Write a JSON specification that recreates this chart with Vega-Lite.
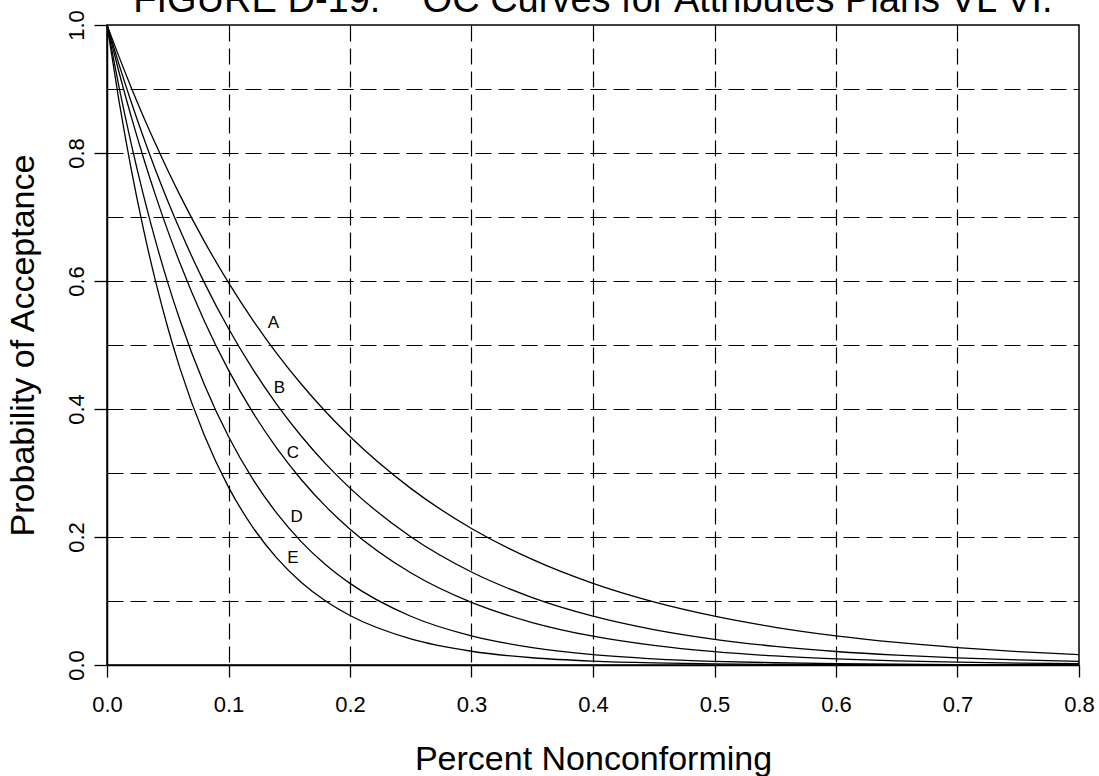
{
  "$schema": "https://vega.github.io/schema/vega-lite/v6.json",
  "width": 972,
  "height": 640,
  "autosize": {"type": "none"},
  "padding": {"left": 107, "top": 25, "right": 20, "bottom": 111},
  "background": "white",
  "title": {
    "text": "FIGURE D-19.\u00a0\u00a0\u00a0\u00a0OC Curves for Attributes Plans VL VI.",
    "font": "Liberation Sans",
    "fontSize": 38,
    "fontWeight": "normal",
    "color": "black",
    "baseline": "alphabetic",
    "anchor": "middle",
    "frame": "group",
    "offset": 0,
    "dy": 40
  },
  "config": {
    "font": "Liberation Sans",
    "view": {"stroke": "black", "strokeWidth": 1.5}
  },
  "datasets": {
    "curves": [
      {"plan": "A", "p": 0, "pa": 1},
      {"plan": "A", "p": 0.01, "pa": 0.9498},
      {"plan": "A", "p": 0.02, "pa": 0.9021},
      {"plan": "A", "p": 0.03, "pa": 0.8568},
      {"plan": "A", "p": 0.04, "pa": 0.8139},
      {"plan": "A", "p": 0.05, "pa": 0.773},
      {"plan": "A", "p": 0.06, "pa": 0.7342},
      {"plan": "A", "p": 0.08, "pa": 0.6623},
      {"plan": "A", "p": 0.1, "pa": 0.5975},
      {"plan": "A", "p": 0.12, "pa": 0.539},
      {"plan": "A", "p": 0.14, "pa": 0.4863},
      {"plan": "A", "p": 0.16, "pa": 0.4387},
      {"plan": "A", "p": 0.18, "pa": 0.3957},
      {"plan": "A", "p": 0.2, "pa": 0.357},
      {"plan": "A", "p": 0.25, "pa": 0.276},
      {"plan": "A", "p": 0.3, "pa": 0.2133},
      {"plan": "A", "p": 0.35, "pa": 0.1649},
      {"plan": "A", "p": 0.4, "pa": 0.1275},
      {"plan": "A", "p": 0.45, "pa": 0.0985},
      {"plan": "A", "p": 0.5, "pa": 0.0762},
      {"plan": "A", "p": 0.55, "pa": 0.0589},
      {"plan": "A", "p": 0.6, "pa": 0.0455},
      {"plan": "A", "p": 0.65, "pa": 0.0352},
      {"plan": "A", "p": 0.7, "pa": 0.0272},
      {"plan": "A", "p": 0.75, "pa": 0.021},
      {"plan": "A", "p": 0.8, "pa": 0.0162},
      {"plan": "B", "p": 0, "pa": 1},
      {"plan": "B", "p": 0.01, "pa": 0.9377},
      {"plan": "B", "p": 0.02, "pa": 0.8793},
      {"plan": "B", "p": 0.03, "pa": 0.8246},
      {"plan": "B", "p": 0.04, "pa": 0.7732},
      {"plan": "B", "p": 0.05, "pa": 0.7251},
      {"plan": "B", "p": 0.06, "pa": 0.6799},
      {"plan": "B", "p": 0.08, "pa": 0.5979},
      {"plan": "B", "p": 0.1, "pa": 0.5257},
      {"plan": "B", "p": 0.12, "pa": 0.4623},
      {"plan": "B", "p": 0.14, "pa": 0.4065},
      {"plan": "B", "p": 0.16, "pa": 0.3574},
      {"plan": "B", "p": 0.18, "pa": 0.3143},
      {"plan": "B", "p": 0.2, "pa": 0.2764},
      {"plan": "B", "p": 0.25, "pa": 0.2004},
      {"plan": "B", "p": 0.3, "pa": 0.1453},
      {"plan": "B", "p": 0.35, "pa": 0.1054},
      {"plan": "B", "p": 0.4, "pa": 0.0764},
      {"plan": "B", "p": 0.45, "pa": 0.0554},
      {"plan": "B", "p": 0.5, "pa": 0.0402},
      {"plan": "B", "p": 0.55, "pa": 0.0291},
      {"plan": "B", "p": 0.6, "pa": 0.0211},
      {"plan": "B", "p": 0.65, "pa": 0.0153},
      {"plan": "B", "p": 0.7, "pa": 0.0111},
      {"plan": "B", "p": 0.75, "pa": 0.008},
      {"plan": "B", "p": 0.8, "pa": 0.0058},
      {"plan": "C", "p": 0, "pa": 1},
      {"plan": "C", "p": 0.01, "pa": 0.9254},
      {"plan": "C", "p": 0.02, "pa": 0.8564},
      {"plan": "C", "p": 0.03, "pa": 0.7926},
      {"plan": "C", "p": 0.04, "pa": 0.7334},
      {"plan": "C", "p": 0.05, "pa": 0.6787},
      {"plan": "C", "p": 0.06, "pa": 0.6281},
      {"plan": "C", "p": 0.08, "pa": 0.5379},
      {"plan": "C", "p": 0.1, "pa": 0.4607},
      {"plan": "C", "p": 0.12, "pa": 0.3946},
      {"plan": "C", "p": 0.14, "pa": 0.3379},
      {"plan": "C", "p": 0.16, "pa": 0.2894},
      {"plan": "C", "p": 0.18, "pa": 0.2478},
      {"plan": "C", "p": 0.2, "pa": 0.2122},
      {"plan": "C", "p": 0.25, "pa": 0.1441},
      {"plan": "C", "p": 0.3, "pa": 0.0978},
      {"plan": "C", "p": 0.35, "pa": 0.0664},
      {"plan": "C", "p": 0.4, "pa": 0.045},
      {"plan": "C", "p": 0.45, "pa": 0.0306},
      {"plan": "C", "p": 0.5, "pa": 0.0208},
      {"plan": "C", "p": 0.55, "pa": 0.0141},
      {"plan": "C", "p": 0.6, "pa": 0.0096},
      {"plan": "C", "p": 0.65, "pa": 0.0065},
      {"plan": "C", "p": 0.7, "pa": 0.0044},
      {"plan": "C", "p": 0.75, "pa": 0.003},
      {"plan": "C", "p": 0.8, "pa": 0.002},
      {"plan": "D", "p": 0, "pa": 1},
      {"plan": "D", "p": 0.01, "pa": 0.9021},
      {"plan": "D", "p": 0.02, "pa": 0.8139},
      {"plan": "D", "p": 0.03, "pa": 0.7342},
      {"plan": "D", "p": 0.04, "pa": 0.6623},
      {"plan": "D", "p": 0.05, "pa": 0.5975},
      {"plan": "D", "p": 0.06, "pa": 0.539},
      {"plan": "D", "p": 0.08, "pa": 0.4387},
      {"plan": "D", "p": 0.1, "pa": 0.357},
      {"plan": "D", "p": 0.12, "pa": 0.2905},
      {"plan": "D", "p": 0.14, "pa": 0.2365},
      {"plan": "D", "p": 0.16, "pa": 0.1924},
      {"plan": "D", "p": 0.18, "pa": 0.1566},
      {"plan": "D", "p": 0.2, "pa": 0.1275},
      {"plan": "D", "p": 0.25, "pa": 0.0762},
      {"plan": "D", "p": 0.3, "pa": 0.0455},
      {"plan": "D", "p": 0.35, "pa": 0.0272},
      {"plan": "D", "p": 0.4, "pa": 0.0162},
      {"plan": "D", "p": 0.45, "pa": 0.0097},
      {"plan": "D", "p": 0.5, "pa": 0.0058},
      {"plan": "D", "p": 0.55, "pa": 0.0035},
      {"plan": "D", "p": 0.6, "pa": 0.0021},
      {"plan": "D", "p": 0.65, "pa": 0.0012},
      {"plan": "D", "p": 0.7, "pa": 0.0007},
      {"plan": "D", "p": 0.75, "pa": 0.0004},
      {"plan": "D", "p": 0.8, "pa": 0.0003},
      {"plan": "E", "p": 0, "pa": 1},
      {"plan": "E", "p": 0.01, "pa": 0.8799},
      {"plan": "E", "p": 0.02, "pa": 0.7741},
      {"plan": "E", "p": 0.03, "pa": 0.6811},
      {"plan": "E", "p": 0.04, "pa": 0.5993},
      {"plan": "E", "p": 0.05, "pa": 0.5273},
      {"plan": "E", "p": 0.06, "pa": 0.4639},
      {"plan": "E", "p": 0.08, "pa": 0.3592},
      {"plan": "E", "p": 0.1, "pa": 0.278},
      {"plan": "E", "p": 0.12, "pa": 0.2152},
      {"plan": "E", "p": 0.14, "pa": 0.1666},
      {"plan": "E", "p": 0.16, "pa": 0.129},
      {"plan": "E", "p": 0.18, "pa": 0.0999},
      {"plan": "E", "p": 0.2, "pa": 0.0773},
      {"plan": "E", "p": 0.25, "pa": 0.0408},
      {"plan": "E", "p": 0.3, "pa": 0.0215},
      {"plan": "E", "p": 0.35, "pa": 0.0113},
      {"plan": "E", "p": 0.4, "pa": 0.006},
      {"plan": "E", "p": 0.45, "pa": 0.0032},
      {"plan": "E", "p": 0.5, "pa": 0.0017},
      {"plan": "E", "p": 0.55, "pa": 0.0009},
      {"plan": "E", "p": 0.6, "pa": 0.0005},
      {"plan": "E", "p": 0.65, "pa": 0.0002},
      {"plan": "E", "p": 0.7, "pa": 0.0001},
      {"plan": "E", "p": 0.75, "pa": 0.0001},
      {"plan": "E", "p": 0.8, "pa": 0}
    ],
    "labels": [
      {"plan": "A", "p": 0.137, "pa": 0.534},
      {"plan": "B", "p": 0.142, "pa": 0.433},
      {"plan": "C", "p": 0.153, "pa": 0.332},
      {"plan": "D", "p": 0.156, "pa": 0.231},
      {"plan": "E", "p": 0.153, "pa": 0.167}
    ]
  },
  "encoding": {
    "x": {
      "field": "p",
      "type": "quantitative",
      "scale": {"domain": [0, 0.8], "nice": false, "zero": false},
      "axis": {
        "values": [0, 0.1, 0.2, 0.3, 0.4, 0.5, 0.6, 0.7, 0.8],
        "format": ".1f",
        "labelFont": "Liberation Sans",
        "labelFontSize": 22,
        "labelColor": "black",
        "labelPadding": 17,
        "labelFlush": false,
        "labelOverlap": false,
        "tickSize": 12,
        "tickColor": "black",
        "tickWidth": 1.3,
        "domainColor": "black",
        "domainWidth": 1.5,
        "grid": true,
        "gridColor": "black",
        "gridWidth": 1.2,
        "gridDash": [16, 7],
        "gridOpacity": {"condition": {"test": "datum.value <= 0 || datum.value >= 0.79", "value": 0}, "value": 1},
        "title": "Percent Nonconforming",
        "titleFont": "Liberation Sans",
        "titleFontSize": 34,
        "titleFontWeight": "normal",
        "titleColor": "black",
        "titlePadding": 27
      }
    },
    "y": {
      "field": "pa",
      "type": "quantitative",
      "scale": {"domain": [0, 1], "nice": false, "zero": false},
      "axis": {
        "values": [0, 0.1, 0.2, 0.3, 0.4, 0.5, 0.6, 0.7, 0.8, 0.9, 1],
        "labelExpr": "round(datum.value * 10) % 2 == 0 ? format(datum.value, '.1f') : ''",
        "labelAngle": 270,
        "labelAlign": "center",
        "labelBaseline": "alphabetic",
        "labelFont": "Liberation Sans",
        "labelFontSize": 22,
        "labelColor": "black",
        "labelPadding": 11,
        "labelFlush": false,
        "labelOverlap": false,
        "tickSize": 13,
        "tickColor": "black",
        "tickWidth": 1.3,
        "tickOpacity": {"condition": {"test": "round(datum.value * 10) % 2 == 1", "value": 0}, "value": 1},
        "domainColor": "black",
        "domainWidth": 1.5,
        "grid": true,
        "gridColor": "black",
        "gridWidth": 1.2,
        "gridDash": [16, 7],
        "gridOpacity": {"condition": {"test": "datum.value <= 0 || datum.value >= 0.99", "value": 0}, "value": 1},
        "title": "Probability of Acceptance",
        "titleFont": "Liberation Sans",
        "titleFontSize": 34,
        "titleFontWeight": "normal",
        "titleColor": "black",
        "titlePadding": 25
      }
    }
  },
  "layer": [
    {
      "data": {"name": "curves"},
      "mark": {"type": "line", "interpolate": "monotone", "color": "black", "strokeWidth": 1.3},
      "encoding": {"detail": {"field": "plan", "type": "nominal"}}
    },
    {
      "data": {"name": "labels"},
      "mark": {"type": "text", "font": "Liberation Sans", "fontSize": 17, "color": "black", "align": "center", "baseline": "middle"},
      "encoding": {"text": {"field": "plan", "type": "nominal"}}
    }
  ]
}
